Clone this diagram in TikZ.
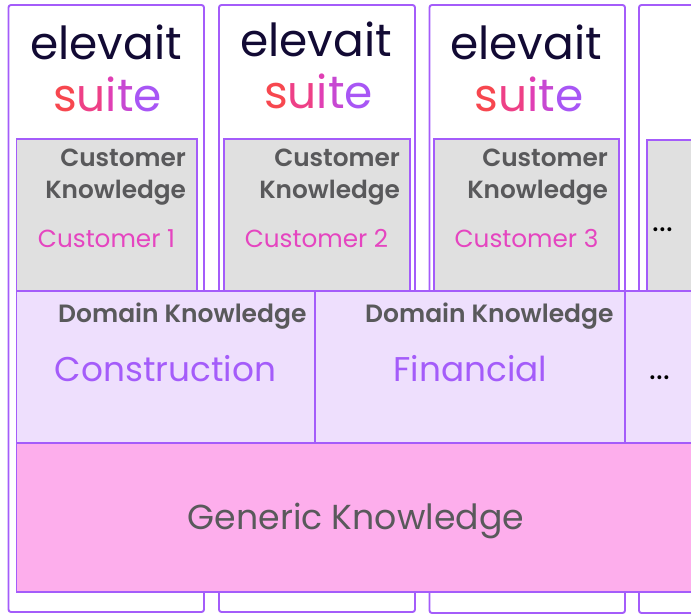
\documentclass[tikz,border=0pt]{standalone}
\usepackage{fontspec}
\setmainfont{Poppins}
\newfontfamily\headfont{Poppins SemiBold}
\usetikzlibrary{positioning}

\definecolor{edgepurple}{HTML}{A45CFA}
\definecolor{custgray}{HTML}{E0E0E0}
\definecolor{domlilac}{HTML}{EEDFFD}
\definecolor{genpink}{HTML}{FDAEEC}
\definecolor{textgray}{HTML}{59595B}
\definecolor{logonavy}{HTML}{120A34}
\definecolor{custpink}{HTML}{E545C0}
\definecolor{sufa}{HTML}{F7474F}
\definecolor{sufb}{HTML}{EE4087}
\definecolor{sufc}{HTML}{E03FB4}
\definecolor{sufd}{HTML}{C748D2}
\definecolor{sufe}{HTML}{A856F5}

\newcommand{\suitelogo}{\textcolor{sufa}{s}\textcolor{sufb}{u}\textcolor{sufc}{i}\textcolor{sufd}{t}\textcolor{sufe}{e}}

\begin{document}
\begin{tikzpicture}[x=1pt,y=-1pt,semithick,
    every node/.style={inner sep=0pt,outer sep=0pt},
    card/.style={draw=edgepurple,line width=1.9pt,rounded corners=2.5pt,fill=white},
    layer/.style={draw=edgepurple,line width=1.9pt,anchor=north west},
    cust/.style={layer,fill=custgray,minimum height=152pt},
    dom/.style={layer,fill=domlilac,minimum height=152pt},
    logoa/.style={font=\fontsize{45.5}{45.5}\selectfont,text=logonavy},
    logob/.style={font=\fontsize{45.5}{45.5}\selectfont},
    head/.style={font=\fontsize{24.8}{24.8}\headfont,text=textgray,anchor=base east},
    domhead/.style={head,font=\fontsize{25}{25}\headfont},
    custname/.style={font=\fontsize{24.7}{24.7}\selectfont,text=custpink,anchor=base},
    domname/.style={font=\fontsize{34.3}{34.3}\selectfont,text=edgepurple,anchor=base},
    more/.style={font=\fontsize{32}{32}\selectfont,anchor=base}]

 \clip (0,0) rectangle (691,614);
 \fill[white] (0,0) rectangle (691,614);

 % cards
 \draw [card] (8.5,5) rectangle (204,612);
 \draw [card] (219,5) rectangle (415,612);
 \draw [card] (429.5,5) rectangle (625,613);
 \draw [card] (639,5) rectangle (720,613);

 \node [logoa,anchor=base] (elev1) at (106,59) {elevait};
 \node [logob,anchor=base] (suite1) at (107.5,111.5) {\suitelogo};
 \node [logoa,anchor=base] (elev2) at (316,56) {elevait};
 \node [logob,anchor=base] (suite2) at (318.5,108.5) {\suitelogo};
 \node [logoa,anchor=base] (elev3) at (526,59) {elevait};
 \node [logob,anchor=base] (suite3) at (529,111.5) {\suitelogo};

 % customer boxes
 \node [cust,minimum width=180.5pt] (c1) at (16.5,139) {};
 \node [cust,minimum width=186pt] (c2) at (224,139) {};
 \node [cust,minimum width=185pt] (c3) at (434,139) {};
 \node [cust,minimum width=60pt,minimum height=151pt] (c4) at (647,140) {};

 \node [head] (k1a) at (186,166) {Customer};
 \node [head] (k1b) at (186,198) {Knowledge};
 \node [head] (k2a) at (400,166) {Customer};
 \node [head] (k2b) at (400,198) {Knowledge};
 \node [head] (k3a) at (608,166) {Customer};
 \node [head] (k3b) at (608,198) {Knowledge};

 \node [custname] (n1) at (106.5,247) {Customer 1};
 \node [custname] (n2) at (316.5,247) {Customer 2};
 \node [custname] (n3) at (526.5,247) {Customer 3};
 \node [more] (n4) at (663,231) {...};

 % domain layer
 \node [dom,minimum width=298.5pt] (d1) at (16.5,291) {};
 \node [dom,minimum width=310pt] (d2) at (315,291) {};
 \node [dom,minimum width=80pt] (d3) at (625,291) {};

 \node [domhead] (h1) at (306.5,322) {Domain Knowledge};
 \node [domhead] (h2) at (613.5,322) {Domain Knowledge};
 \node [domname] (e1) at (165.5,381) {Construction};
 \node [domname] (e2) at (470.5,381) {Financial};
 \node [more] (e3) at (660,379) {...};

 % generic layer
 \node [layer,fill=genpink,minimum width=690pt,minimum height=149pt] (g) at (16.5,443) {};
 \node [font=\fontsize{34.7}{34.7}\selectfont,text=textgray,anchor=base] (gt) at (356,529) {Generic Knowledge};

\end{tikzpicture}
\end{document}
